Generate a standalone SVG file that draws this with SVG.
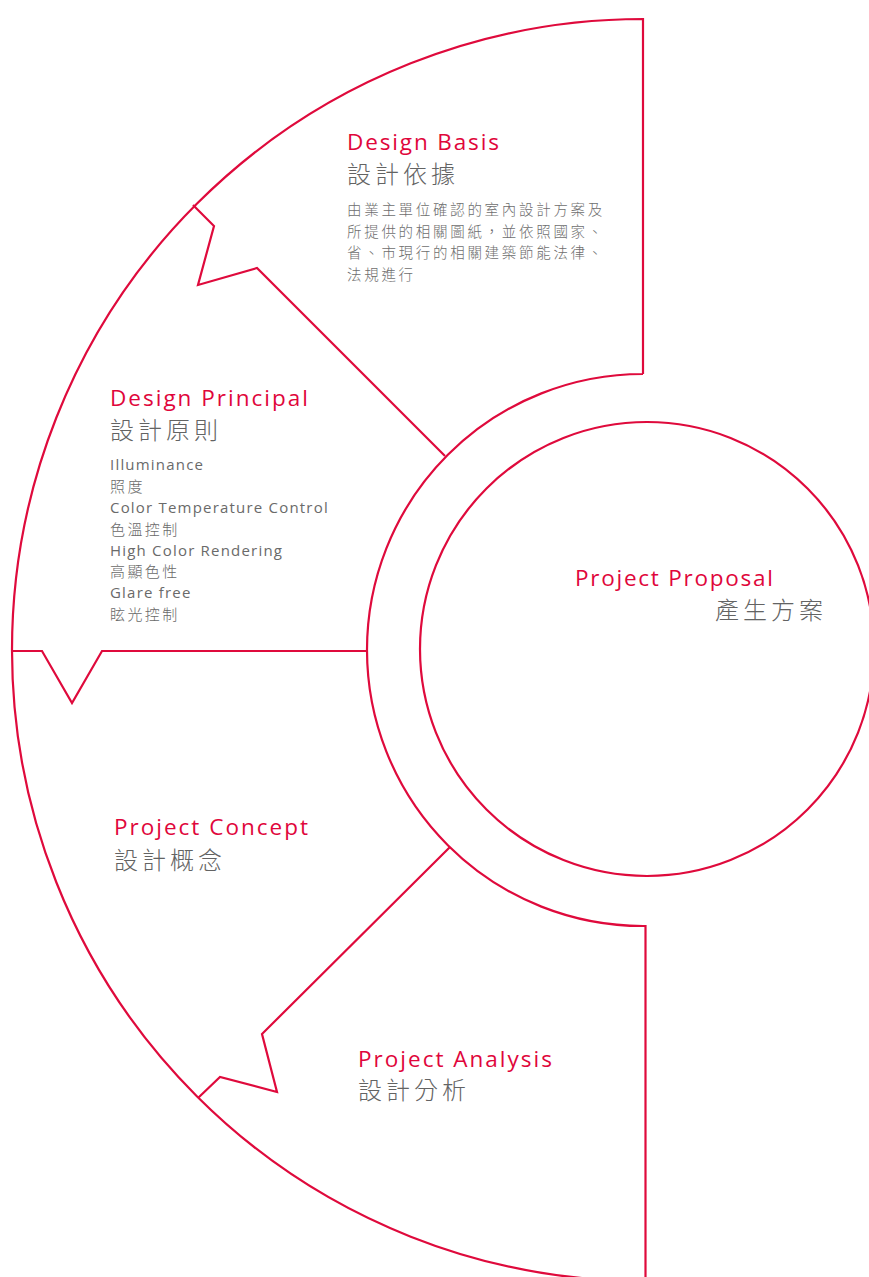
<svg xmlns="http://www.w3.org/2000/svg" width="869" height="1277" viewBox="0 0 869 1277">
<style>
.ln{fill:none;stroke:#df0a3c;stroke-width:2.2;stroke-linejoin:miter}
.t{font-family:"Open Sans","Noto Sans CJK TC",sans-serif;fill:#e0063b;font-size:22.5px}
.c{font-family:"Noto Sans CJK TC","Open Sans",sans-serif;fill:#636363;font-size:24px;letter-spacing:4px;font-weight:300}
.b{font-family:"Noto Sans CJK TC","Open Sans",sans-serif;fill:#6e6e6e;font-size:14.5px;letter-spacing:2.7px;font-weight:300}
.l{font-family:"Open Sans","Noto Sans CJK TC",sans-serif;fill:#6a6a6a;font-size:15px;letter-spacing:1.2px}
.lc{font-family:"Noto Sans CJK TC","Open Sans",sans-serif;fill:#6a6a6a;font-size:15px;letter-spacing:2.4px;font-weight:300}
</style>
<rect width="869" height="1277" fill="#fff"/>
<g id="connectors">
<path class="ln" d="M643 374 L643 19 A631 631 0 0 0 12 650 A631 631 0 0 0 643 1281 L645.5 1281 L645.5 926 L643 926 A276 276 0 0 1 643 374"/>
<polyline class="ln" points="445,456 257,268 198,285 214,226 193,205"/>
<polyline class="ln" points="367,651 102,651 72,703 42,651 11,651"/>
<polyline class="ln" points="450,847 262,1034 277,1092 220,1077 198,1098"/>
</g>
<g id="design-basis">
<text class="t" x="347" y="150" textLength="152">Design Basis</text>
<text class="c" x="347" y="183">設計依據</text>
<text class="b" x="347" y="215">由業主單位確認的室內設計方案及</text>
<text class="b" x="347" y="237">所提供的相關圖紙，並依照國家、</text>
<text class="b" x="347" y="258">省、市現行的相關建築節能法律、</text>
<text class="b" x="347" y="280">法規進行</text>
</g>
<g id="design-principal">
<text class="t" x="110" y="406" textLength="198">Design Principal</text>
<text class="c" x="110" y="439">設計原則</text>
<text class="l" x="110" y="470">Illuminance</text>
<text class="lc" x="110" y="492">照度</text>
<text class="l" x="110" y="513">Color Temperature Control</text>
<text class="lc" x="110" y="535">色溫控制</text>
<text class="l" x="110" y="556">High Color Rendering</text>
<text class="lc" x="110" y="577">高顯色性</text>
<text class="l" x="110" y="598">Glare free</text>
<text class="lc" x="110" y="620">眩光控制</text>
</g>
<g id="project-proposal">
<circle class="ln" cx="647" cy="649" r="227"/>
<text class="t" x="575" y="586" textLength="198">Project Proposal</text>
<text class="c" x="715" y="619">產生方案</text>
</g>
<g id="project-concept">
<text class="t" x="114" y="835" textLength="194">Project Concept</text>
<text class="c" x="114" y="869">設計概念</text>
</g>
<g id="project-analysis">
<text class="t" x="358" y="1067" textLength="194">Project Analysis</text>
<text class="c" x="358" y="1099">設計分析</text>
</g>
</svg>
